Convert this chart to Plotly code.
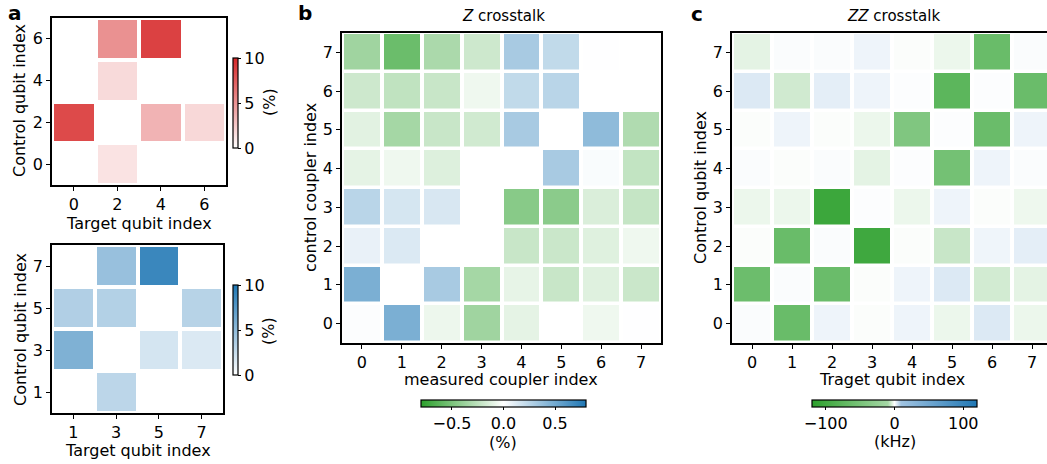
import plotly.graph_objects as go

W, H = 1047, 464

# ---------------- data ----------------
# panel a (top): Z crosstalk on even qubits (%)
a_top_target = [0, 2, 4, 6]
a_top_control = [0, 2, 4, 6]
a_top_values = [
    [None, 1.3, None, None],   # control 0
    [8.4, None, 3.5, 1.8],     # control 2
    [None, 1.7, None, None],   # control 4
    [None, 5.1, 8.8, None],    # control 6
]

# panel a (bottom): odd qubits (%)
a_bot_target = [1, 3, 5, 7]
a_bot_control = [1, 3, 5, 7]
a_bot_values = [
    [None, 3.0, None, None],   # control 1
    [5.7, None, 1.9, 1.6],     # control 3
    [3.5, 3.4, None, 3.2],     # control 5
    [None, 4.6, 8.8, None],    # control 7
]

# panel b: Z crosstalk between couplers (%)
b_measured = [0, 1, 2, 3, 4, 5, 6, 7]
b_control = [0, 1, 2, 3, 4, 5, 6, 7]
b_values = [
    [0.01, 0.47, -0.07, -0.36, -0.10, 0.0, -0.06, 0.005],    # 0
    [0.47, 0.0, 0.31, -0.34, -0.09, -0.21, -0.12, -0.20],    # 1
    [0.08, 0.13, 0.0, 0.0, -0.21, -0.20, -0.12, -0.06],      # 2
    [0.25, 0.15, 0.14, 0.0, -0.45, -0.44, -0.14, -0.22],     # 3
    [-0.10, -0.06, -0.13, 0.0, 0.0, 0.31, 0.02, -0.23],      # 4
    [-0.11, -0.34, -0.21, -0.18, 0.31, 0.0, 0.40, -0.30],    # 5
    [-0.19, -0.24, -0.21, -0.06, 0.22, 0.25, 0.0, 0.0],      # 6
    [-0.36, -0.56, -0.32, -0.19, 0.31, 0.22, 0.005, 0.0],    # 7
]

# panel c: ZZ crosstalk (kHz)
c_target = [0, 1, 2, 3, 4, 5, 6, 7]
c_control = [0, 1, 2, 3, 4, 5, 6, 7]
c_values = [
    [0.5, -64, 1.7, -0.4, 1.7, -2.0, 3.5, -2.0],      # 0
    [-62, 0.5, -63, -0.4, 1.7, 3.5, -4.8, -2.9],      # 1
    [-0.4, -64, 0.5, -103, -0.4, -5.9, 1.6, 2.7],     # 2
    [-2.0, -2.0, -105, 0.3, -2.0, 1.7, -0.4, -1.8],   # 3
    [0.5, -0.4, 0.5, -2.9, 0.3, -54, 1.7, 0.5],       # 4
    [-0.4, 1.7, -0.4, -2.0, -43, 0.3, -63, 1.7],      # 5
    [3.5, -5.0, 2.7, 1.7, 0.3, -76, 0.3, -63],        # 6
    [-2.9, 0.5, 0.5, 1.7, -0.4, -2.0, -64, 0.5],      # 7
]

# ---------------- helpers ----------------
def px_x(p):
    return p / W

def px_y(p):
    return 1 - p / H

FONT = "DejaVu Sans"
FS = 16
reds = [[0, "#ffffff"], [1, "#d62728"]]
blues = [[0, "#ffffff"], [1, "#1f77b4"]]
gwb = [[0, "#2ca02c"], [0.5, "#ffffff"], [1, "#1f77b4"]]
gwb_zz = [[0, "#2ca02c"], [0.46, "rgb(165,215,165)"], [0.5, "#ffffff"],
          [0.54, "rgb(160,195,225)"], [1, "#1f77b4"]]

fig = go.Figure()

cb_common = dict(outlinewidth=1.2, outlinecolor="black", ticks="outside",
                 ticklen=3, tickwidth=1, tickcolor="black",
                 tickfont=dict(size=FS, family=FONT, color="black"),
                 xpad=0, ypad=0)

fig.add_trace(go.Heatmap(
    x=a_top_target, y=a_top_control, z=a_top_values, zmin=0, zmax=10,
    colorscale=reds, xgap=4, ygap=4, xaxis="x", yaxis="y",
    colorbar=dict(x=px_x(233), xanchor="left", y=px_y(103), yanchor="middle",
                  len=90 / H, thickness=5, tickvals=[0, 5, 10], **cb_common)))

fig.add_trace(go.Heatmap(
    x=a_bot_target, y=a_bot_control, z=a_bot_values, zmin=0, zmax=10,
    colorscale=blues, xgap=4, ygap=4, xaxis="x2", yaxis="y2",
    colorbar=dict(x=px_x(233), xanchor="left", y=px_y(330), yanchor="middle",
                  len=90 / H, thickness=5, tickvals=[0, 5, 10], **cb_common)))

fig.add_trace(go.Heatmap(
    x=b_measured, y=b_control, z=b_values, zmin=-0.8, zmax=0.8,
    colorscale=gwb, xgap=4, ygap=3.5, xaxis="x3", yaxis="y3",
    colorbar=dict(orientation="h", x=px_x(503.5), xanchor="center",
                  y=px_y(400), yanchor="top", len=165 / W, thickness=7,
                  tickvals=[-0.5, 0, 0.5], ticktext=["\u22120.5", "0.0", "0.5"],
                  **cb_common)))

fig.add_trace(go.Heatmap(
    x=c_target, y=c_control, z=c_values, zmin=-120, zmax=120,
    colorscale=gwb_zz, xgap=4, ygap=3.5, xaxis="x4", yaxis="y4",
    colorbar=dict(orientation="h", x=px_x(894.5), xanchor="center",
                  y=px_y(400), yanchor="top", len=165 / W, thickness=7,
                  tickvals=[-100, 0, 100], ticktext=["\u2212100", "0", "100"],
                  **cb_common)))

ax_common = dict(showline=True, linecolor="black", linewidth=1.6,
                 ticks="outside", ticklen=4, tickwidth=1.2, tickcolor="black",
                 showgrid=False, zeroline=False,
                 tickfont=dict(size=FS, family=FONT, color="black"))

fig.update_layout(
    width=W, height=H, margin=dict(l=0, r=0, t=0, b=0),
    paper_bgcolor="white", plot_bgcolor="white",
    font=dict(family=FONT, size=FS, color="black"),
    showlegend=False,
    xaxis=dict(domain=[px_x(52), px_x(226)], range=[-1, 7], tickvals=[0, 2, 4, 6],
               anchor="y", mirror=True, **ax_common),
    yaxis=dict(domain=[px_y(185), px_y(18)], range=[-1, 7], tickvals=[0, 2, 4, 6],
               anchor="x", mirror=True, **ax_common),
    xaxis2=dict(domain=[px_x(52), px_x(223)], range=[0, 8], tickvals=[1, 3, 5, 7],
                anchor="y2", mirror=True, **ax_common),
    yaxis2=dict(domain=[px_y(413), px_y(245)], range=[0, 8], tickvals=[1, 3, 5, 7],
                anchor="x2", mirror=True, **ax_common),
    xaxis3=dict(domain=[px_x(342), px_x(661)], range=[-0.5, 7.5], tickvals=b_measured,
                anchor="y3", mirror=True, **ax_common),
    yaxis3=dict(domain=[px_y(343), px_y(33)], range=[-0.5, 7.5], tickvals=b_control,
                anchor="x3", mirror=True, **ax_common),
    xaxis4=dict(domain=[px_x(732), 1.0], range=[-0.5, 7.37], tickvals=c_target,
                anchor="y4", mirror=True, **ax_common),
    yaxis4=dict(domain=[px_y(343), px_y(33)], range=[-0.5, 7.5], tickvals=c_control,
                anchor="x4", mirror=False, **ax_common),
)

def ann(text, x, y, size=FS, angle=0):
    fig.add_annotation(text=text, x=px_x(x), y=px_y(y), xref="paper", yref="paper",
                       xanchor="center", yanchor="middle", showarrow=False,
                       borderpad=0, textangle=angle,
                       font=dict(size=size, family=FONT, color="black"))

# panel letters
ann("<b>a</b>", 15, 13, size=20)
ann("<b>b</b>", 305, 13, size=20)
ann("<b>c</b>", 697, 14, size=20)

# titles
ann("<i>Z</i> crosstalk", 503, 16, size=15)
ann("<i>ZZ</i> crosstalk", 893, 16, size=15)

# axis titles
ann("Target qubit index", 139, 223)
ann("Control qubit index", 20, 101, angle=-90)
ann("Target qubit index", 138, 450)
ann("Control qubit index", 20, 330, angle=-90)
ann("measured coupler index", 501, 379)
ann("control coupler index", 310, 188, angle=-90)
ann("Traget qubit index", 892, 379)
ann("Control qubit index", 700, 188, angle=-90)

# colorbar titles
ann("(%)", 269, 102, angle=-90)
ann("(%)", 268, 331, angle=-90)
ann("(%)", 503, 442)
ann("(kHz)", 895, 441)

fig.write_html("out.html")
